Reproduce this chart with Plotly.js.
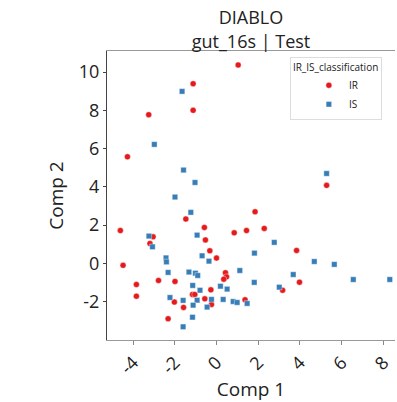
<!DOCTYPE html>
<html>
<head>
<meta charset="utf-8">
<script src="https://cdn.plot.ly/plotly-3.0.1.min.js"></script>
<style>html,body{margin:0;padding:0;background:#fff;}#chart{width:397px;height:402px;}</style>
</head>
<body>
<div id="chart"></div>
<script>
const IR_x = [1.04, -1.12, -1.12, -3.25, -4.27, 5.28, 1.85, -1.47, 2.29, -4.61, -0.58, 0.85, 1.44, -3.04, -3.19, -0.53, -0.32, 3.84, 0.0, -4.48, 0.43, 0.48, 0.35, -2.78, -1.99, 3.98, -3.84, -0.27, 3.17, -1.15, -1.04, -3.84, -0.56, 1.37, -2.02, -0.24, -1.58, -2.32];
const IR_y = [10.37, 9.39, 8.0, 7.77, 5.57, 4.08, 2.70, 2.32, 1.83, 1.72, 1.88, 1.60, 1.72, 1.39, 1.04, 1.23, 0.66, 0.68, 0.28, -0.10, -0.49, -0.70, -0.82, -0.89, -0.94, -0.98, -1.10, -1.38, -1.40, -1.62, -1.62, -1.71, -1.85, -1.90, -2.02, -2.14, -2.30, -2.89];
const IS_x = [-1.65, -2.98, -1.58, 5.28, -1.03, -1.99, -1.23, -3.24, -3.07, -0.93, 2.77, -0.69, 1.82, -0.36, -2.42, -2.40, 4.69, 5.65, -2.32, -1.32, -1.01, -0.90, 1.12, 3.68, 6.56, 8.31, 1.81, -1.14, 3.01, -0.79, 0.19, 0.51, -2.23, -0.24, 0.32, -0.93, -1.60, 0.80, 0.99, 1.47, -1.12, -0.45, -1.15, -1.60];
const IS_y = [8.99, 6.22, 4.88, 4.70, 4.23, 3.47, 2.67, 1.43, 0.87, 1.48, 1.10, 0.40, 0.54, 0.12, 0.29, 0.08, 0.10, -0.05, -0.47, -0.45, -0.51, -0.63, -0.37, -0.58, -0.84, -0.84, -0.99, -1.15, -1.24, -1.40, -1.19, -1.34, -1.78, -1.88, -1.88, -1.92, -1.93, -1.99, -2.04, -2.09, -2.18, -2.28, -2.81, -3.31];
const xTicks = [-4, -2, 0, 2, 4, 6, 8];
const yTicks = [-2, 0, 2, 4, 6, 8, 10];

const FONT = '"Open Sans", "Noto Sans", sans-serif';
const traces = [
  {x: IR_x, y: IR_y, type: 'scatter', mode: 'markers', name: 'IR',
   marker: {symbol: 'circle', size: 6, color: '#e41a1c', line: {color: '#ffffff', width: 0.4}}},
  {x: IS_x, y: IS_y, type: 'scatter', mode: 'markers', name: 'IS',
   marker: {symbol: 'square', size: 5.5, color: '#377eb8', line: {color: '#ffffff', width: 0.4}}}
];
const layout = {
  width: 397, height: 402,
  margin: {l: 107, r: 2, t: 51, b: 62},
  paper_bgcolor: '#ffffff', plot_bgcolor: '#ffffff',
  font: {family: FONT, color: '#222222'},
  showlegend: true,
  title: {text: 'DIABLO<br>gut_16s | Test', x: 0.5, xref: 'paper', y: 0.94, yref: 'container', yanchor: 'top',
          font: {size: 18, family: FONT, color: '#222222'}},
  xaxis: {range: [-5.25, 8.56], tickvals: xTicks, ticktext: xTicks.map(String), tickangle: -45,
          showgrid: false, zeroline: false, showline: true, linecolor: '#999999', linewidth: 1, mirror: true,
          ticks: 'outside', ticklen: 4, tickcolor: '#888888', tickfont: {size: 18, family: FONT, color: '#222222'},
          title: {text: 'Comp 1', font: {size: 19, family: FONT, color: '#222222'}, standoff: 6}},
  yaxis: {range: [-4.0, 11.1], tickvals: yTicks, ticktext: yTicks.map(String),
          showgrid: false, zeroline: false, showline: true, linecolor: '#444444', linewidth: 1,
          ticks: 'outside', ticklen: 3, tickcolor: '#444444', tickfont: {size: 18, family: FONT, color: '#222222'},
          title: {text: 'Comp 2', font: {size: 19, family: FONT, color: '#222222'}, standoff: 10}},
  legend: {x: 0.635, y: 0.98, xanchor: 'left', yanchor: 'top', bgcolor: 'rgba(255,255,255,0.85)',
           bordercolor: '#dddddd', borderwidth: 1, font: {size: 10, family: FONT, color: '#222222'},
           title: {text: 'IR_IS_classification', font: {size: 10, family: FONT, color: '#222222'}},
           tracegroupgap: 0, itemsizing: 'trace', indentation: 18}
};
Plotly.newPlot('chart', traces, layout, {staticPlot: true, displayModeBar: false});
</script>
</body>
</html>
